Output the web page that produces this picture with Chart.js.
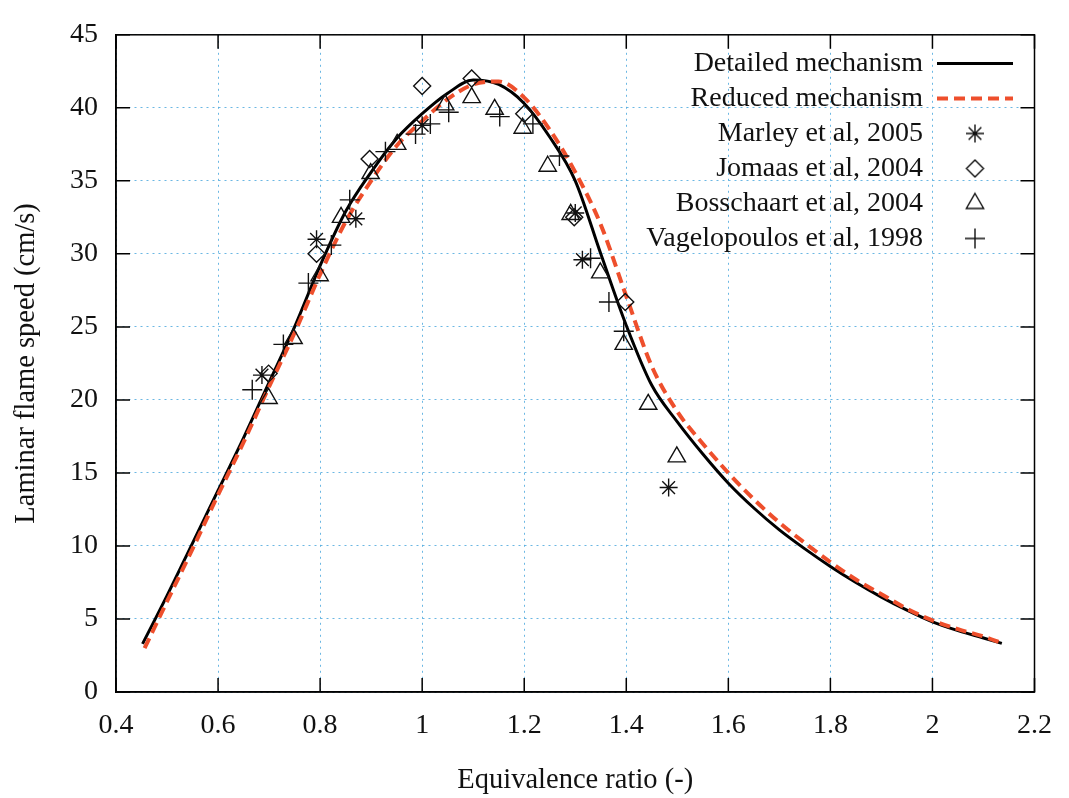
<!DOCTYPE html>
<html>
<head>
<meta charset="utf-8">
<title>Laminar flame speed</title>
<script src="https://cdn.jsdelivr.net/npm/chart.js@4.4.0/dist/chart.umd.min.js"></script>
<style>
  html, body { margin: 0; padding: 0; background: #fff; }
  #wrap { width: 1069px; height: 798px; }
</style>
</head>
<body>
<div id="wrap"><canvas id="flameChart" width="1069" height="798"></canvas></div>
<script>
// axis ticks
const xTickValues = [0.4, 0.6, 0.8, 1.0, 1.2, 1.4, 1.6, 1.8, 2.0, 2.2];
const xTickLabels = ['0.4', '0.6', '0.8', '1', '1.2', '1.4', '1.6', '1.8', '2', '2.2'];
const yTickValues = [0, 5, 10, 15, 20, 25, 30, 35, 40, 45];
const yTickLabels = ['0', '5', '10', '15', '20', '25', '30', '35', '40', '45'];

// computed curves
const detailedPhi = [0.452, 0.5, 0.55, 0.6, 0.65, 0.7, 0.75, 0.8, 0.85, 0.9, 0.95, 1.0, 1.05, 1.1, 1.15, 1.2, 1.25, 1.3, 1.35, 1.4, 1.45, 1.5, 1.55, 1.6, 1.65, 1.7, 1.75, 1.8, 1.85, 1.9, 1.95, 2.0, 2.05, 2.1, 2.136];
const detailedSpeed = [3.3, 6.6, 10.2, 13.8, 17.4, 21.2, 25.0, 29.2, 32.9, 35.6, 37.9, 39.6, 41.0, 41.9, 41.6, 40.3, 38.0, 35.0, 30.0, 25.1, 21.0, 18.5, 16.3, 14.3, 12.6, 11.1, 9.8, 8.6, 7.5, 6.5, 5.6, 4.8, 4.2, 3.7, 3.33];
const reducedPhi = [0.456, 0.5, 0.55, 0.6, 0.65, 0.7, 0.75, 0.8, 0.85, 0.9, 0.95, 1.0, 1.05, 1.1, 1.15, 1.2, 1.25, 1.3, 1.35, 1.4, 1.45, 1.5, 1.55, 1.6, 1.65, 1.7, 1.75, 1.8, 1.85, 1.9, 1.95, 2.0, 2.05, 2.1, 2.136];
const reducedSpeed = [3.0, 6.2, 9.8, 13.5, 17.1, 20.9, 24.6, 28.6, 32.2, 35.0, 37.4, 39.1, 40.6, 41.6, 41.8, 40.7, 38.5, 35.6, 32.0, 27.1, 22.3, 19.2, 17.0, 15.0, 13.2, 11.6, 10.2, 8.9, 7.7, 6.7, 5.7, 4.9, 4.3, 3.8, 3.35];

// measurements
const marleyPhi = [0.686, 0.793, 0.870, 1.0, 1.3, 1.314, 1.483];
const marleySpeed = [21.7, 31.0, 32.4, 38.8, 32.8, 29.6, 14.0];
const jomaasPhi = [0.699, 0.793, 0.897, 1.0, 1.097, 1.2, 1.298, 1.398];
const jomaasSpeed = [21.8, 30.0, 36.5, 41.5, 42.0, 39.6, 32.5, 26.7];
const bosschaartPhi = [0.699, 0.748, 0.799, 0.841, 0.899, 0.951, 1.045, 1.097, 1.142, 1.197, 1.246, 1.291, 1.349, 1.395, 1.443, 1.499];
const bosschaartSpeed = [20.1, 24.2, 28.5, 32.5, 35.5, 37.5, 40.2, 40.7, 39.9, 38.6, 36.0, 32.7, 28.7, 23.8, 19.7, 16.1];
const vagelopoulosPhi = [0.667, 0.728, 0.777, 0.822, 0.858, 0.928, 0.987, 1.016, 1.052, 1.152, 1.217, 1.269, 1.33, 1.366, 1.395];
const vagelopoulosSpeed = [20.7, 23.8, 28.0, 30.6, 33.7, 37.0, 38.2, 38.9, 39.7, 39.4, 38.9, 36.7, 29.7, 26.7, 24.7];

function toPoints(xs, ys) {
  return xs.map((x, i) => ({ x: x, y: ys[i] }));
}

const serif = "'Liberation Serif', 'Times New Roman', serif";
const ink = '#111111';
const gridBlue = 'rgba(70, 165, 220, 0.8)';
const symbolLine = 1.4;

function symbolSet(label, xs, ys, style, radius) {
  return {
    label: label,
    data: toPoints(xs, ys),
    showLine: false,
    pointStyle: style,
    pointRadius: radius,
    pointHoverRadius: radius,
    pointBorderColor: ink,
    pointBackgroundColor: 'rgba(0,0,0,0)',
    pointBorderWidth: symbolLine,
    order: 1
  };
}

// small picture of a point symbol for the legend (so it is not stretched to the line sample width)
function legendIcon(style, radius) {
  const size = Math.ceil(radius * 2 + 6);
  const c = document.createElement('canvas');
  c.width = size;
  c.height = size;
  const g = c.getContext('2d');
  g.strokeStyle = ink;
  g.fillStyle = 'rgba(0,0,0,0)';
  g.lineWidth = symbolLine;
  if (Chart.helpers && Chart.helpers.drawPoint) {
    Chart.helpers.drawPoint(g, { pointStyle: style, radius: radius, borderWidth: symbolLine, rotation: 0 }, size / 2, size / 2);
  } else {
    const m = size / 2;
    g.beginPath();
    if (style === 'rectRot') {
      g.moveTo(m - radius, m); g.lineTo(m, m - radius); g.lineTo(m + radius, m); g.lineTo(m, m + radius); g.closePath();
    } else if (style === 'triangle') {
      g.moveTo(m, m - radius);
      g.lineTo(m + radius * Math.sin(2 * Math.PI / 3), m + radius / 2);
      g.lineTo(m - radius * Math.sin(2 * Math.PI / 3), m + radius / 2);
      g.closePath();
    } else {
      g.moveTo(m - radius, m); g.lineTo(m + radius, m);
      g.moveTo(m, m - radius); g.lineTo(m, m + radius);
      if (style === 'star') {
        const d = radius * Math.SQRT1_2;
        g.moveTo(m - d, m - d); g.lineTo(m + d, m + d);
        g.moveTo(m - d, m + d); g.lineTo(m + d, m - d);
      }
    }
    g.stroke();
  }
  return c;
}

// frame with inward tick marks on all four sides
const frameTicks = {
  id: 'frameTicks',
  beforeDatasetsDraw(chart) {
    const { ctx, chartArea: a, scales: { x, y } } = chart;
    const len = 14;
    ctx.save();
    ctx.strokeStyle = '#000';
    ctx.lineWidth = 1.5;
    ctx.strokeRect(a.left, a.top, a.right - a.left, a.bottom - a.top);
    ctx.beginPath();
    x.ticks.forEach(t => {
      const px = x.getPixelForValue(t.value);
      ctx.moveTo(px, a.bottom); ctx.lineTo(px, a.bottom - len);
      ctx.moveTo(px, a.top); ctx.lineTo(px, a.top + len);
    });
    y.ticks.forEach(t => {
      const py = y.getPixelForValue(t.value);
      ctx.moveTo(a.left, py); ctx.lineTo(a.left + len, py);
      ctx.moveTo(a.right, py); ctx.lineTo(a.right - len, py);
    });
    ctx.stroke();
    ctx.restore();
  }
};

// move the (zero-width) legend box into the top right of the plot
const placeLegend = {
  id: 'placeLegend',
  afterLayout(chart) {
    const lg = chart.legend;
    lg.left = 560;
    lg.right = 1020;
    lg.width = lg.right - lg.left;
    lg.top = 31;
    lg.bottom = 271;
    lg.height = lg.bottom - lg.top;
  }
};

const ctx = document.getElementById('flameChart').getContext('2d');

new Chart(ctx, {
  type: 'scatter',
  data: {
    datasets: [
      {
        label: 'Detailed mechanism',
        data: toPoints(detailedPhi, detailedSpeed),
        showLine: true,
        borderColor: '#000000',
        borderWidth: 3,
        pointRadius: 0,
        pointHoverRadius: 0,
        cubicInterpolationMode: 'monotone',
        order: 3
      },
      {
        label: 'Reduced mechanism',
        data: toPoints(reducedPhi, reducedSpeed),
        showLine: true,
        borderColor: '#ee4f2c',
        borderWidth: 4,
        borderDash: [11, 6],
        pointRadius: 0,
        pointHoverRadius: 0,
        cubicInterpolationMode: 'monotone',
        order: 2
      },
      symbolSet('Marley et al, 2005', marleyPhi, marleySpeed, 'star', 9),
      symbolSet('Jomaas et al, 2004', jomaasPhi, jomaasSpeed, 'rectRot', 8.5),
      symbolSet('Bosschaart et al, 2004', bosschaartPhi, bosschaartSpeed, 'triangle', 10),
      symbolSet('Vagelopoulos et al, 1998', vagelopoulosPhi, vagelopoulosSpeed, 'cross', 10)
    ]
  },
  options: {
    responsive: false,
    animation: false,
    layout: {
      padding: { top: 17, right: 26, bottom: 0, left: 0 }
    },
    plugins: {
      tooltip: { enabled: false },
      legend: {
        position: 'left',
        maxWidth: 0.01,
        rtl: true,
        labels: {
          usePointStyle: true,
          pointStyleWidth: 76,
          boxHeight: 13,
          padding: 7,
          color: ink,
          font: { family: serif, size: 28 },
          generateLabels: function(chart) {
            return chart.data.datasets.map((ds, i) => ({
              text: ds.label,
              fillStyle: 'rgba(0,0,0,0)',
              strokeStyle: ds.showLine ? ds.borderColor : ds.pointBorderColor,
              lineWidth: ds.showLine ? ds.borderWidth : ds.pointBorderWidth,
              lineDash: ds.borderDash || [],
              lineCap: 'butt',
              pointStyle: ds.showLine ? 'line' : legendIcon(ds.pointStyle, ds.pointRadius),
              fontColor: ink,
              hidden: false,
              datasetIndex: i
            }));
          }
        }
      }
    },
    scales: {
      x: {
        type: 'linear',
        min: 0.4,
        max: 2.2,
        afterBuildTicks: function(scale) {
          scale.ticks = xTickValues.map(v => ({ value: v }));
        },
        afterFit: function(scale) {
          scale.height = 106;
        },
        grid: {
          color: gridBlue,
          lineWidth: 1,
          drawTicks: false
        },
        border: {
          display: true,
          color: '#000',
          width: 1.5,
          dash: [2, 4]
        },
        ticks: {
          color: ink,
          padding: 17,
          maxRotation: 0,
          autoSkip: false,
          font: { family: serif, size: 28 },
          callback: function(value) {
            return xTickLabels[xTickValues.indexOf(value)];
          }
        },
        title: {
          display: true,
          text: 'Equivalence ratio (-)',
          color: ink,
          font: { family: serif, size: 28.5 },
          padding: { top: 0, bottom: 0 }
        }
      },
      y: {
        min: 0,
        max: 45,
        afterBuildTicks: function(scale) {
          scale.ticks = yTickValues.map(v => ({ value: v }));
        },
        afterFit: function(scale) {
          scale.width = 116;
        },
        grid: {
          color: gridBlue,
          lineWidth: 1,
          drawTicks: false
        },
        border: {
          display: true,
          color: '#000',
          width: 1.5,
          dash: [2, 4]
        },
        ticks: {
          color: ink,
          padding: 18,
          font: { family: serif, size: 28 },
          callback: function(value) {
            return yTickLabels[yTickValues.indexOf(value)];
          }
        },
        title: {
          display: true,
          text: 'Laminar flame speed (cm/s)',
          color: ink,
          font: { family: serif, size: 28.5 },
          padding: { top: 9, bottom: 0 }
        }
      }
    }
  },
  plugins: [frameTicks, placeLegend]
});
</script>
</body>
</html>
